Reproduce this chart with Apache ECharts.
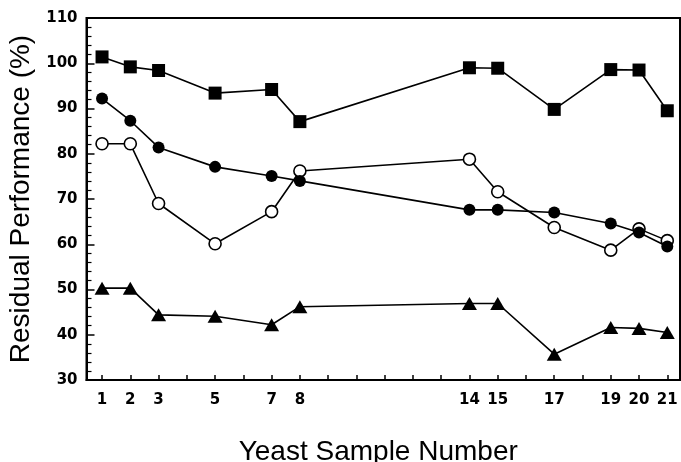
<!DOCTYPE html>
<html>
<head>
<meta charset="utf-8">
<script src="https://cdn.jsdelivr.net/npm/echarts@6/dist/echarts.min.js"></script>
<style>
html,body{margin:0;padding:0;background:#fff;}
#c{width:681px;height:462px;}
</style>
</head>
<body>
<div id="c"></div>
<script>
const samples = [1, 2, 3, 5, 7, 8, 14, 15, 17, 19, 20, 21];
const squares = [101.4, 99.2, 98.4, 93.4, 94.2, 87.1, 99.0, 98.9, 89.8, 98.6, 98.5, 89.5];
const filledCircles = [92.2, 87.3, 81.4, 77.1, 75.1, 74.0, 67.6, 67.6, 67.0, 64.6, 62.6, 59.5];
const openCircles = [82.2, 82.2, 69.0, 60.1, 67.2, 76.2, 78.8, 71.6, 63.7, 58.7, 63.4, 60.8];
const triangles = [50.3, 50.3, 44.4, 44.1, 42.2, 46.2, 46.9, 46.9, 35.7, 41.6, 41.4, 40.5];
const xTickValues = [1,2,3,4,5,6,7,8,9,10,11,12,13,14,15,16,17,18,19,20,21];
const xLabelValues = [1, 2, 3, 5, 7, 8, 14, 15, 17, 19, 20, 21];
const yTickLabels = [30, 40, 50, 60, 70, 80, 90, 100, 110];

const pairs = arr => samples.map((s, i) => [s, arr[i]]);
const font = '"DejaVu Sans", sans-serif';
const lineStyle = {color: '#000', width: 1.6};

const chart = echarts.init(document.getElementById('c'), null, {renderer: 'canvas'});
chart.setOption({
  animation: false,
  backgroundColor: '#fff',
  grid: {left: 86.5, right: 1, top: 18, bottom: 82, show: true, borderColor: '#000', borderWidth: 2,
         containLabel: false, outerBoundsMode: 'none'},
  xAxis: {
    type: 'value', min: 0.45, max: 21.45,
    name: 'Yeast Sample Number', nameLocation: 'middle', nameGap: 58,
    nameTextStyle: {fontFamily: '"Liberation Sans", Arial, sans-serif', fontSize: 28, color: '#000', padding: [0, 10, 0, 0]},
    axisLine: {show: true, lineStyle: {color: '#000', width: 2}},
    axisTick: {show: true, inside: true, length: 5, lineStyle: {color: '#000', width: 1.5}, customValues: xTickValues},
    axisLabel: {customValues: xLabelValues, margin: 13, fontFamily: font, fontWeight: 'bold', fontSize: 15, color: '#000'},
    splitLine: {show: false}
  },
  yAxis: {
    type: 'value', min: yTickLabels[0], max: yTickLabels[yTickLabels.length - 1], interval: 10,
    name: 'Residual Performance (%)', nameLocation: 'middle', nameGap: 46, nameRotate: 90,
    nameTextStyle: {fontFamily: '"Liberation Sans", Arial, sans-serif', fontSize: 28, color: '#000'},
    axisLine: {show: true, lineStyle: {color: '#000', width: 2}},
    axisTick: {show: true, inside: true, length: 8, lineStyle: {color: '#000', width: 1.5}},
    minorTick: {show: true, splitNumber: 5, length: 5, lineStyle: {color: '#000', width: 1.2}},
    axisLabel: {margin: 9, fontFamily: font, fontWeight: 'bold', fontSize: 15, color: '#000'},
    splitLine: {show: false}
  },
  series: [
    {type: 'line', name: 'squares', data: pairs(squares), symbol: 'rect', symbolSize: 13,
     lineStyle: lineStyle, itemStyle: {color: '#000'}, z: 3},
    {type: 'line', name: 'open', data: pairs(openCircles), symbol: 'circle', symbolSize: 12,
     lineStyle: lineStyle, itemStyle: {color: '#fff', borderColor: '#000', borderWidth: 1.6}, z: 3},
    {type: 'line', name: 'filled', data: pairs(filledCircles), symbol: 'circle', symbolSize: 12,
     lineStyle: lineStyle, itemStyle: {color: '#000'}, z: 4},
    {type: 'line', name: 'triangles', data: pairs(triangles), symbol: 'triangle', symbolSize: [15, 13],
     lineStyle: lineStyle, itemStyle: {color: '#000'}, z: 3}
  ]
});
</script>
</body>
</html>
